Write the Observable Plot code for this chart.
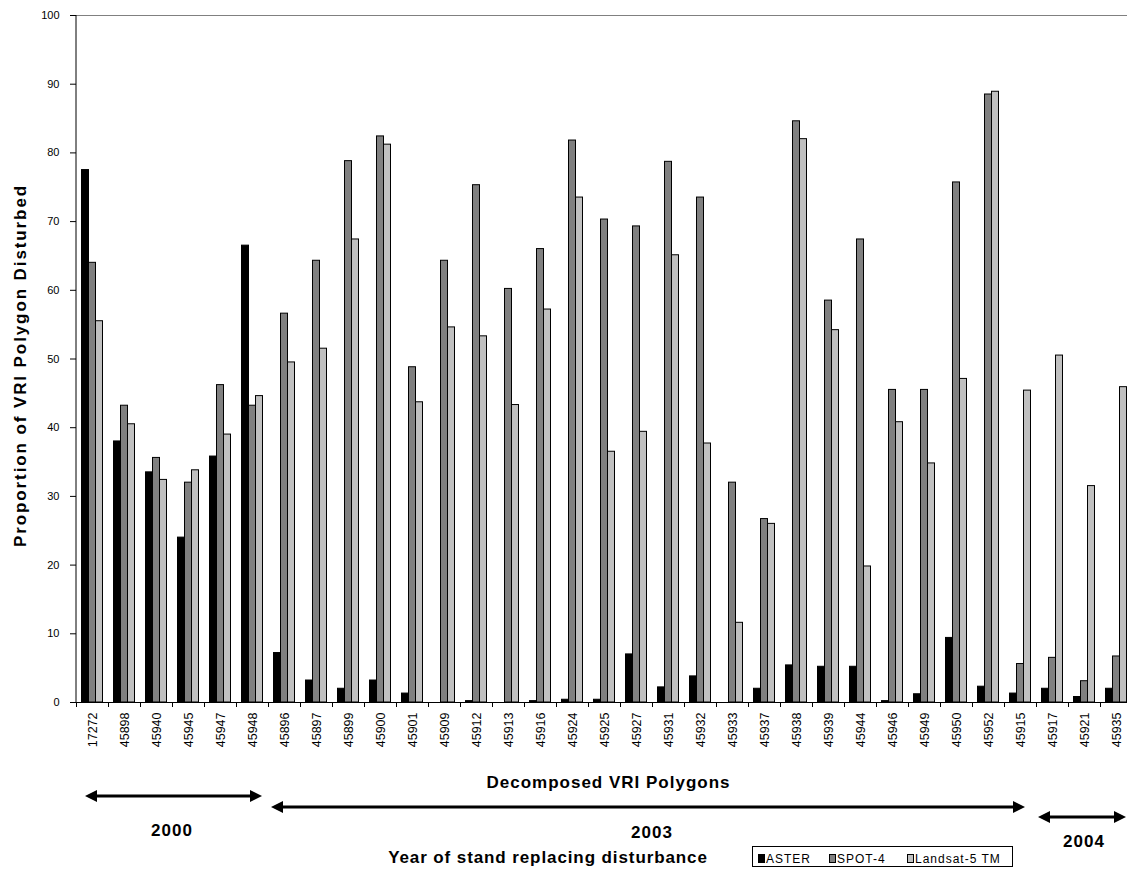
<!DOCTYPE html>
<html>
<head>
<meta charset="utf-8">
<script src="https://cdn.jsdelivr.net/npm/d3@7"></script>
<script src="https://cdn.jsdelivr.net/npm/@observablehq/plot@0.6"></script>
<style>
  html, body { margin: 0; padding: 0; background: #fff; overflow: hidden; }
  #chart svg { display: block; }
</style>
</head>
<body>
<div id="chart"></div>
<script>
// ---------------- data ----------------
const categories = ["17272","45898","45940","45945","45947","45948","45896","45897","45899","45900",
  "45901","45909","45912","45913","45916","45924","45925","45927","45931","45932","45933","45937",
  "45938","45939","45944","45946","45949","45950","45952","45915","45917","45921","45935"];
const aster   = [77.5, 38.0, 33.5, 24.0, 35.8, 66.5, 7.2, 3.2, 2.0, 3.2, 1.3, 0, 0.2, 0, 0.2, 0.4, 0.4, 7.0, 2.2, 3.8, 0, 2.0, 5.4, 5.2, 5.2, 0.2, 1.2, 9.4, 2.3, 1.3, 2.0, 0.8, 2.0];
const spot4   = [64.0, 43.2, 35.6, 32.0, 46.2, 43.2, 56.6, 64.3, 78.8, 82.4, 48.8, 64.3, 75.3, 60.2, 66.0, 81.8, 70.3, 69.3, 78.7, 73.5, 32.0, 26.7, 84.6, 58.5, 67.4, 45.5, 45.5, 75.7, 88.5, 5.6, 6.5, 3.1, 6.7];
const landsat = [55.5, 40.5, 32.4, 33.8, 39.0, 44.6, 49.5, 51.5, 67.4, 81.2, 43.7, 54.6, 53.3, 43.3, 57.2, 73.5, 36.5, 39.4, 65.1, 37.7, 11.6, 26.0, 82.0, 54.2, 19.8, 40.8, 34.8, 47.1, 88.9, 45.4, 50.5, 31.5, 45.9];
const seriesNames = ["ASTER", "SPOT-4", "Landsat-5 TM"];
const yTicks = [0, 10, 20, 30, 40, 50, 60, 70, 80, 90, 100];
const years = ["2000", "2003", "2004"];
const yearFirst = ["17272", "45896", "45917"];
const yearLast = ["45948", "45915", "45935"];
const yLabel = "Proportion of VRI Polygon Disturbed";
const xLabel = "Decomposed VRI Polygons";
const yearTitle = "Year of stand replacing disturbance";

// ---------------- style / layout ----------------
const seriesColors = ["#000000", "#808080", "#c0c0c0"];
const W = 1127, H = 874, ML = 76, MT = 15, MB = 172;
const FONT = "'Liberation Sans', Arial, sans-serif";
const xRange = [ML, W + 5];
const bw = (xRange[1] - xRange[0]) / categories.length;
const groupW = bw * 21 / 32, barW = groupW / 3, off = (bw - groupW) / 2;
const arrowY = [796, 807, 817];
const arrowInsetL = [9, 3, 2];
const arrowInsetR = [6, 11, 6];
const yearLabelY = [836, 838, 847];
const legendItemX = [758, 829, 907];

const values = [aster, spot4, landsat];
const rows = [];
categories.forEach((c, i) => seriesNames.forEach((s, j) => rows.push({cat: c, series: s, value: values[j][i]})));

const bars = seriesNames.map((s, j) => Plot.barY(rows.filter(r => r.series === s && r.value > 0), {
  x: "cat", y: "value", fill: seriesColors[j], stroke: "#000", strokeWidth: 1,
  insetLeft: off + j * barW, insetRight: bw - off - (j + 1) * barW
}));

const chart = Plot.plot({
  width: W, height: H,
  marginLeft: ML, marginRight: 0, marginTop: MT, marginBottom: MB,
  style: {fontFamily: FONT, background: "#fff", color: "#000"},
  x: {type: "band", domain: categories, range: xRange, padding: 0},
  y: {domain: [0, 100]},
  marks: [
    Plot.ruleY([100], {stroke: "#808080", strokeWidth: 1}),
    ...bars,
    Plot.ruleY([0], {stroke: "#000", strokeWidth: 1}),
    Plot.axisY({ticks: yTicks, tickSize: 6, tickPadding: 11, fontSize: 11, label: null}),
    Plot.axisX({tickSize: 5, tickFormat: () => "", dx: -bw / 2, label: null}),
    Plot.axisX({tickSize: 0, tickPadding: 10, tickRotate: -90, fontSize: 12.5, label: null})
  ]
});
document.getElementById("chart").appendChild(chart);

// ---------------- annotations using the plot's scales ----------------
const svg = d3.select(chart);
const xs = chart.scale("x");
const ys = chart.scale("y");
const bandStart = c => xs.apply(c);
const step = xs.bandwidth;

// y axis line
svg.append("line")
  .attr("x1", xs.range[0]).attr("x2", xs.range[0])
  .attr("y1", ys.apply(0)).attr("y2", ys.apply(100))
  .attr("stroke", "#000").attr("stroke-width", 1);

// y label
const yMid = (ys.apply(0) + ys.apply(100)) / 2 + 7;
svg.append("text")
  .attr("transform", `translate(20,${yMid}) rotate(-90)`)
  .attr("text-anchor", "middle").attr("dy", "0.35em")
  .attr("font-family", FONT).attr("font-size", 17).attr("font-weight", "bold")
  .attr("letter-spacing", 1.9).attr("fill", "#000")
  .text(yLabel);

// x title
const frameMid = (ML + W) / 2;
svg.append("text")
  .attr("x", frameMid + 7).attr("y", 788)
  .attr("text-anchor", "middle")
  .attr("font-family", FONT).attr("font-size", 17).attr("font-weight", "bold")
  .attr("letter-spacing", 1).attr("fill", "#000")
  .text(xLabel);

// year arrows
const head = 12, half = 6;
years.forEach((yr, k) => {
  const x1 = bandStart(yearFirst[k]) + arrowInsetL[k];
  const x2 = bandStart(yearLast[k]) + step - arrowInsetR[k];
  const y = arrowY[k];
  svg.append("line").attr("x1", x1 + head - 2).attr("x2", x2 - head + 2)
    .attr("y1", y).attr("y2", y).attr("stroke", "#000").attr("stroke-width", 3);
  svg.append("path").attr("d", `M${x1},${y}L${x1 + head},${y - half}L${x1 + head},${y + half}Z`).attr("fill", "#000");
  svg.append("path").attr("d", `M${x2},${y}L${x2 - head},${y - half}L${x2 - head},${y + half}Z`).attr("fill", "#000");
  svg.append("text")
    .attr("x", (bandStart(yearFirst[k]) + bandStart(yearLast[k]) + step) / 2).attr("y", yearLabelY[k])
    .attr("text-anchor", "middle")
    .attr("font-family", FONT).attr("font-size", 17).attr("font-weight", "bold")
    .attr("letter-spacing", 1).attr("fill", "#000")
    .text(yr);
});

// year title
svg.append("text")
  .attr("x", 548).attr("y", 863)
  .attr("text-anchor", "middle")
  .attr("font-family", FONT).attr("font-size", 17).attr("font-weight", "bold")
  .attr("letter-spacing", 0.9).attr("fill", "#000")
  .text(yearTitle);

// legend
const lg = svg.append("g");
lg.append("rect").attr("x", 752.5).attr("y", 846.5).attr("width", 260).attr("height", 20)
  .attr("fill", "#fff").attr("stroke", "#000").attr("stroke-width", 1);
seriesNames.forEach((s, j) => {
  const x0 = legendItemX[j];
  lg.append("rect").attr("x", x0 + 0.5).attr("y", 854.5).attr("width", 6).attr("height", 8)
    .attr("fill", seriesColors[j]).attr("stroke", "#000").attr("stroke-width", 1);
  lg.append("text").attr("x", x0 + 8).attr("y", 863)
    .attr("text-anchor", "start")
    .attr("font-family", FONT).attr("font-size", 12).attr("letter-spacing", 1).attr("fill", "#000")
    .text(s);
});
</script>
</body>
</html>
